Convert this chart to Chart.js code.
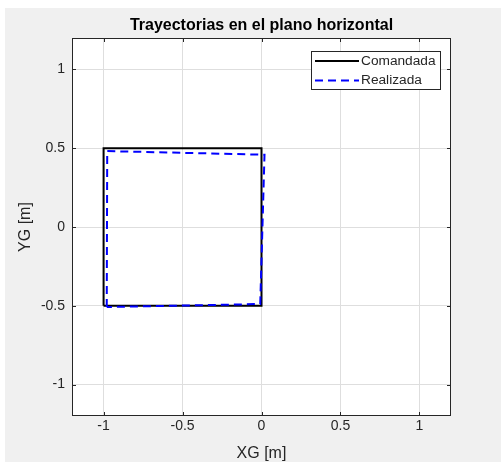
<!DOCTYPE html>
<html>
<head>
<meta charset="utf-8">
<script src="https://cdn.jsdelivr.net/npm/chart.js@4"></script>
<style>
  html, body { margin: 0; padding: 0; background: #ffffff; }
  #wrap { position: relative; width: 501px; height: 462px; }
</style>
</head>
<body>
<div id="wrap"><canvas id="trayChart"></canvas></div>
<script>
// datos
const comandadaX = [-1, -1, 0, 0, -1];
const comandadaY = [-0.5, 0.5, 0.5, -0.5, -0.5];
const realizadaX = [-0.98, -0.977, 0.019, -0.008, -0.98];
const realizadaY = [-0.508, 0.482, 0.459, -0.489, -0.508];
const xTicks = [-1, -0.5, 0, 0.5, 1];
const yTicks = [-1, -0.5, 0, 0.5, 1];
const seriesNames = ["Comandada", "Realizada"];

const axisColor = "#262626";
const gridColor = "#dedede";
const fontFam = "'Liberation Sans', Arial, Helvetica, sans-serif";

function toPoints(xs, ys) {
  return xs.map((x, i) => ({ x: x, y: ys[i] }));
}

// fondo gris tipo figura + caja de ejes, ticks hacia dentro y leyenda
const matlabLook = {
  id: "matlabLook",
  beforeDraw(chart) {
    const ctx = chart.ctx;
    const a = chart.chartArea;
    ctx.save();
    ctx.fillStyle = "#ffffff";
    ctx.fillRect(0, 0, chart.width, chart.height);
    ctx.fillStyle = "#f0f0f0";
    ctx.fillRect(5, 8, chart.width - 5, chart.height - 8);
    ctx.fillStyle = "#ffffff";
    ctx.fillRect(a.left, a.top, a.right - a.left, a.bottom - a.top);
    ctx.restore();
  },
  afterDatasetsDraw(chart) {
    const ctx = chart.ctx;
    const a = chart.chartArea;
    const xs = chart.scales.x;
    const ys = chart.scales.y;
    ctx.save();
    ctx.strokeStyle = axisColor;
    ctx.lineWidth = 1;
    ctx.setLineDash([]);
    ctx.strokeRect(Math.round(a.left) + 0.5, Math.round(a.top) + 0.5,
      Math.round(a.right - a.left) - 1, Math.round(a.bottom - a.top) - 1);
    ctx.beginPath();
    xTicks.forEach(v => {
      const px = Math.round(xs.getPixelForValue(v)) + 0.5;
      ctx.moveTo(px, a.bottom); ctx.lineTo(px, a.bottom - 4);
      ctx.moveTo(px, a.top); ctx.lineTo(px, a.top + 4);
    });
    yTicks.forEach(v => {
      const py = Math.round(ys.getPixelForValue(v)) + 0.5;
      ctx.moveTo(a.left, py); ctx.lineTo(a.left + 4, py);
      ctx.moveTo(a.right, py); ctx.lineTo(a.right - 4, py);
    });
    ctx.stroke();

    // leyenda
    const bx = 311, by = 51, bw = 129, bh = 38;
    ctx.fillStyle = "#ffffff";
    ctx.fillRect(bx, by, bw, bh);
    ctx.strokeStyle = axisColor;
    ctx.strokeRect(bx + 0.5, by + 0.5, bw, bh);
    ctx.font = "13.7px " + fontFam;
    ctx.textBaseline = "middle";
    ctx.textAlign = "left";
    chart.data.datasets.forEach((ds, i) => {
      const ly = by + 10 + i * 19.5;
      ctx.strokeStyle = ds.borderColor;
      ctx.lineWidth = 2;
      ctx.setLineDash(ds.borderDash || []);
      ctx.beginPath();
      ctx.moveTo(315, ly);
      ctx.lineTo(359, ly);
      ctx.stroke();
      ctx.fillStyle = axisColor;
      ctx.fillText(ds.label, 361, ly);
    });
    ctx.restore();
  }
};

const ctx = document.getElementById("trayChart").getContext("2d");

new Chart(ctx, {
  type: "scatter",
  data: {
    datasets: [
      {
        label: seriesNames[0],
        data: toPoints(comandadaX, comandadaY),
        showLine: true,
        borderColor: "#000000",
        borderWidth: 2,
        pointRadius: 0,
        fill: false,
        tension: 0,
        order: 1
      },
      {
        label: seriesNames[1],
        data: toPoints(realizadaX, realizadaY),
        showLine: true,
        borderColor: "#0000ff",
        borderWidth: 2,
        borderDash: [8, 5],
        pointRadius: 0,
        fill: false,
        tension: 0,
        order: 0
      }
    ]
  },
  options: {
    responsive: true,
    maintainAspectRatio: false,
    animation: false,
    layout: {
      padding: { left: 0, right: 50, top: 8, bottom: 0 }
    },
    plugins: {
      legend: { display: false },
      tooltip: { enabled: false },
      title: {
        display: true,
        fullSize: false,
        text: "Trayectorias en el plano horizontal",
        color: "#000000",
        font: { family: fontFam, size: 16, weight: "bold", lineHeight: 1.2 },
        padding: { top: 8.4, bottom: 2.4 }
      }
    },
    scales: {
      x: {
        type: "linear",
        min: -1.2,
        max: 1.2,
        afterBuildTicks: (scale) => { scale.ticks = xTicks.map(v => ({ value: v })); },
        afterFit: (scale) => { scale.height = 46; },
        grid: { color: gridColor, drawTicks: false },
        border: { display: false },
        ticks: {
          color: axisColor,
          padding: 2,
          font: { family: fontFam, size: 14 },
          callback: (v) => String(v)
        },
        title: {
          display: true,
          text: "XG [m]",
          color: axisColor,
          font: { family: fontFam, size: 16, lineHeight: 1 },
          padding: { top: 0, bottom: 0 }
        }
      },
      y: {
        type: "linear",
        min: -1.2,
        max: 1.2,
        afterBuildTicks: (scale) => { scale.ticks = yTicks.map(v => ({ value: v })); },
        afterFit: (scale) => { scale.width = 72; },
        grid: { color: gridColor, drawTicks: false },
        border: { display: false },
        ticks: {
          color: axisColor,
          padding: 7,
          font: { family: fontFam, size: 14 },
          callback: (v) => String(v)
        },
        title: {
          display: true,
          text: "YG [m]",
          color: axisColor,
          font: { family: fontFam, size: 16, lineHeight: 1.2 },
          padding: { top: 16.4, bottom: 0 }
        }
      }
    }
  },
  plugins: [matlabLook]
});
</script>
</body>
</html>
